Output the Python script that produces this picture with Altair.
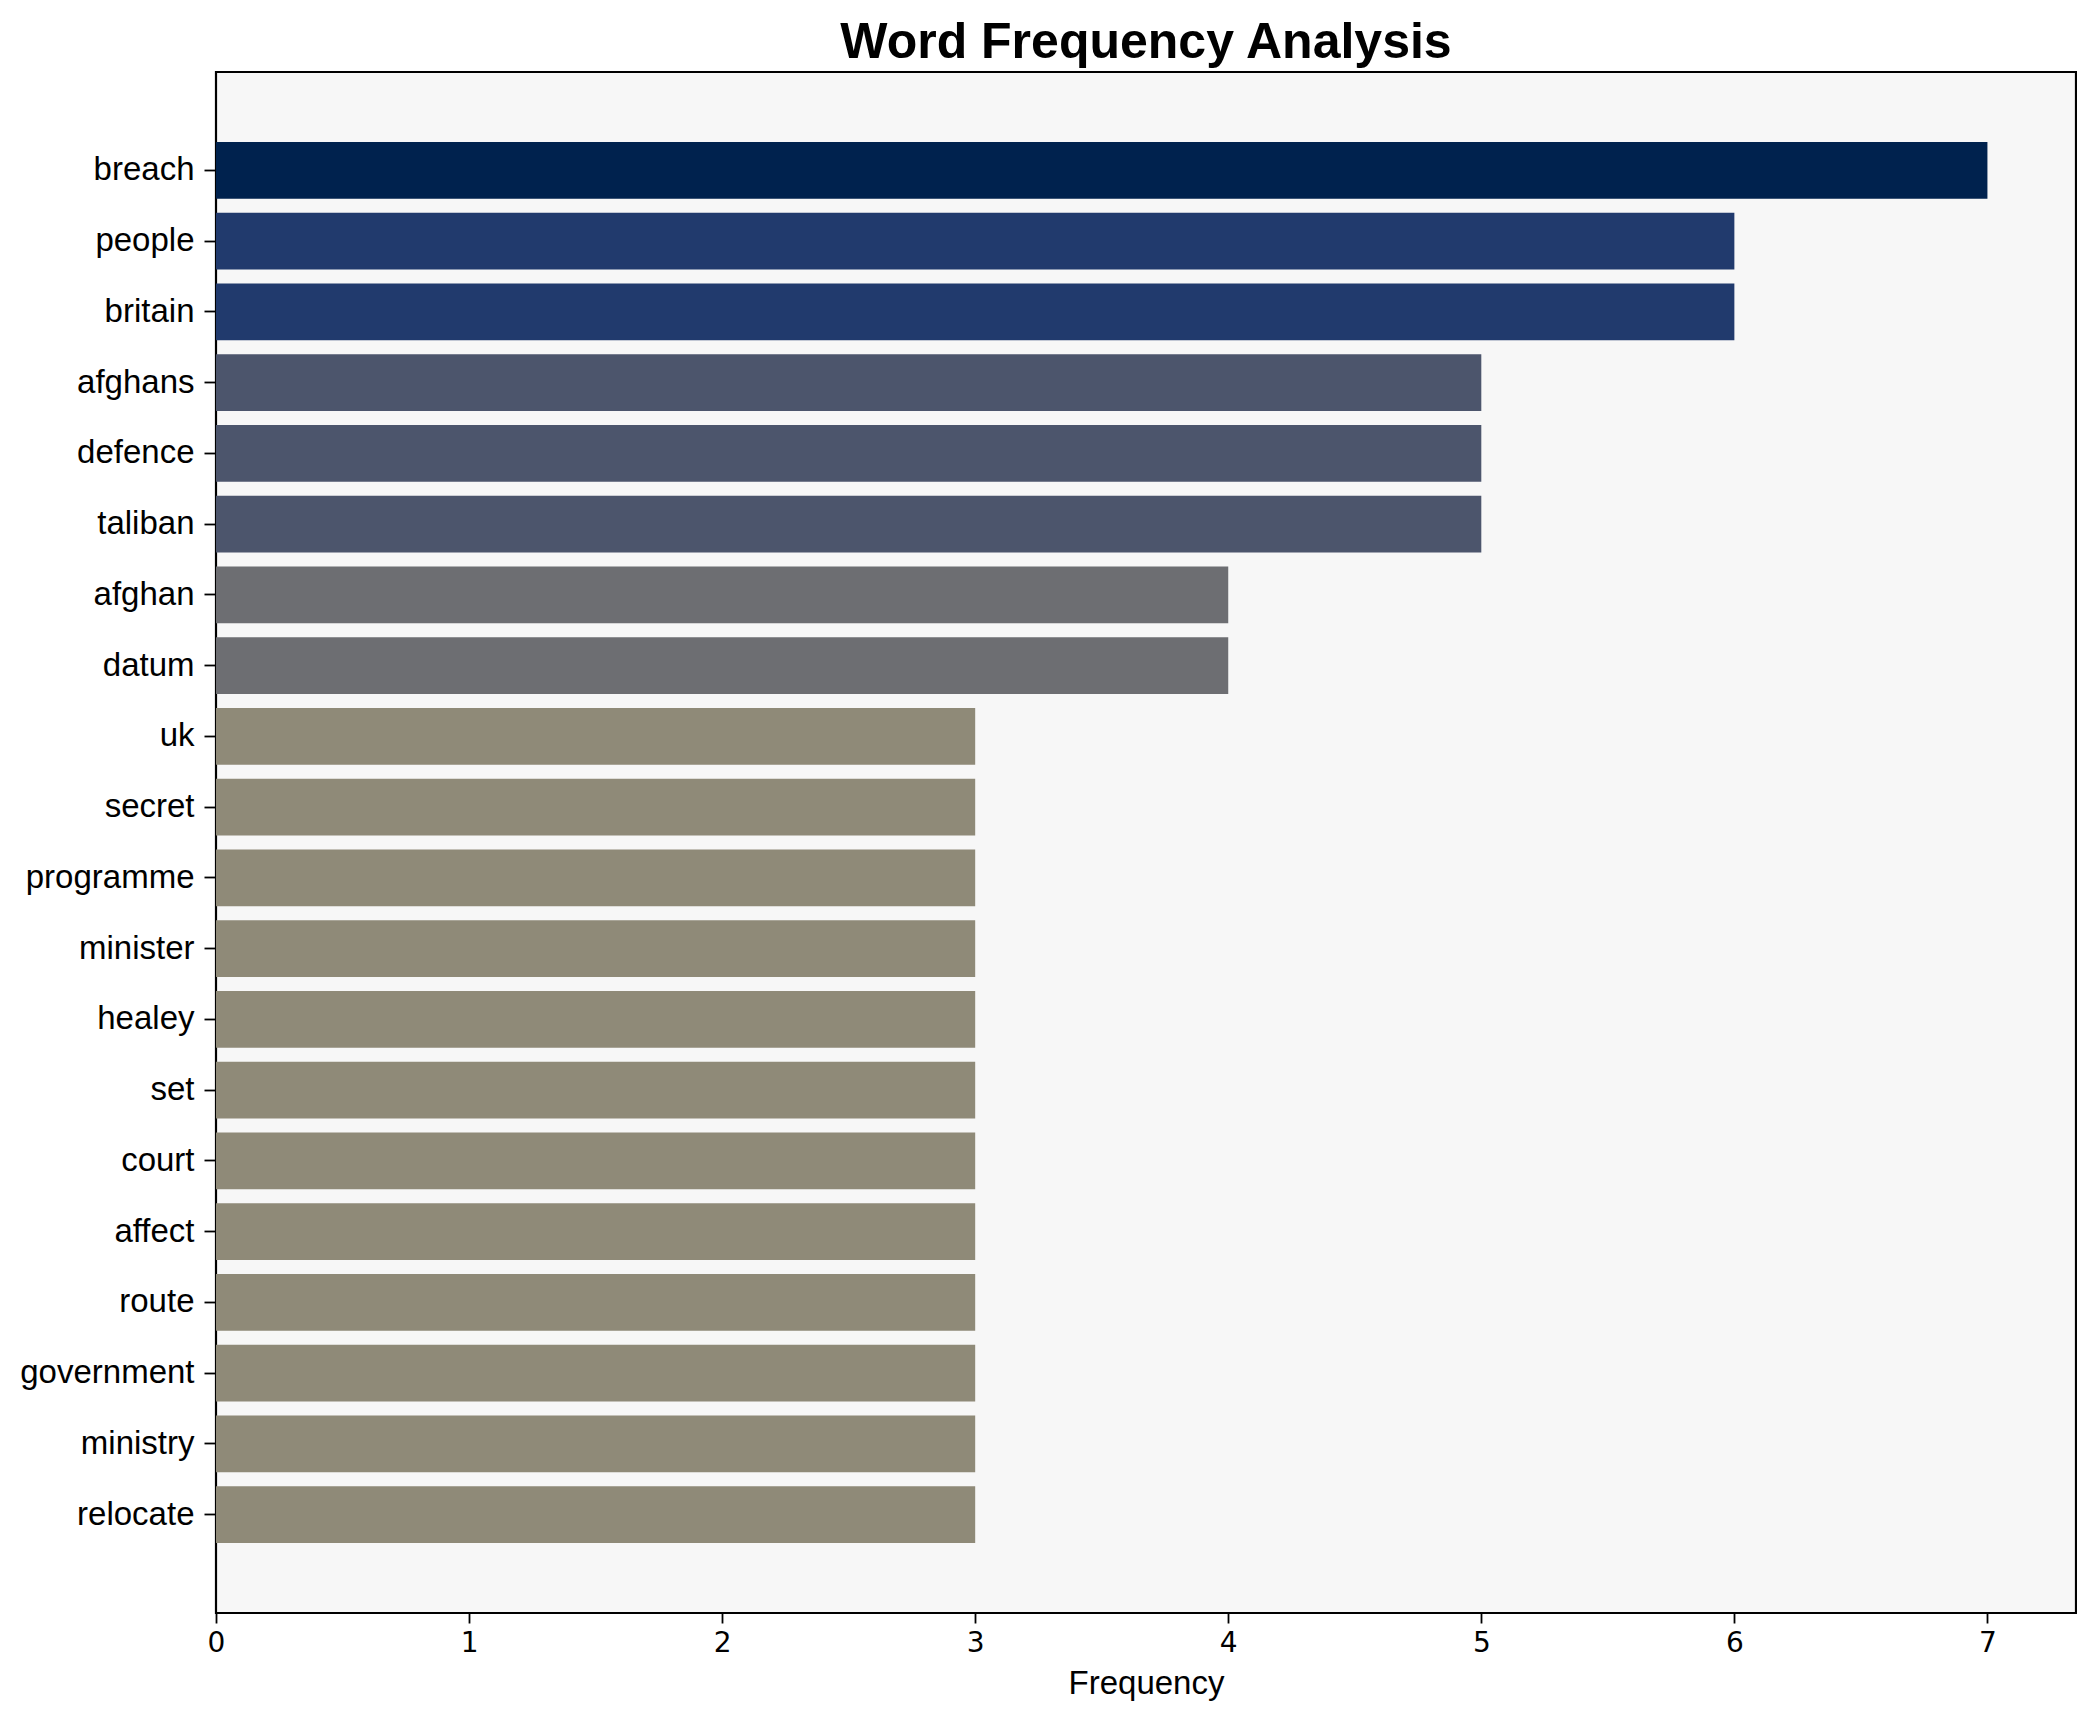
import altair as alt
import pandas as pd

words = ["breach", "people", "britain", "afghans", "defence", "taliban", "afghan", "datum",
         "uk", "secret", "programme", "minister", "healey", "set", "court", "affect",
         "route", "government", "ministry", "relocate"]
freqs = [7, 6, 6, 5, 5, 5, 4, 4, 3, 3, 3, 3, 3, 3, 3, 3, 3, 3, 3, 3]
color_domain = [3, 4, 5, 6, 7]
color_range = ["#8f8a78", "#6d6e72", "#4c556c", "#213a6d", "#00224e"]
x_ticks = [0, 1, 2, 3, 4, 5, 6, 7]

df = pd.DataFrame({"word": words, "freq": freqs})

FONT = "Liberation Sans"

chart = alt.Chart(df).mark_bar().encode(
    y=alt.Y("word:N", sort=words,
            scale=alt.Scale(paddingInner=0.2, paddingOuter=0.99),
            axis=alt.Axis(title=None, labelFont=FONT, labelFontSize=33, labelColor="black",
                          tickSize=12, tickWidth=1.8, tickColor="black", domain=False,
                          labelPadding=10, grid=False)),
    x=alt.X("freq:Q", scale=alt.Scale(domain=[0, 7.35], nice=False, zero=True),
            axis=alt.Axis(title="Frequency", values=x_ticks, format="d",
                          labelFont="DejaVu Sans", labelFontSize=28, labelColor="black",
                          labelFlush=False,
                          titleFont=FONT, titleFontSize=33, titleFontWeight="normal",
                          titleColor="black", titlePadding=10,
                          tickSize=10, tickWidth=1.8, tickColor="black", domain=False,
                          labelPadding=6, grid=False)),
    color=alt.Color("freq:O", scale=alt.Scale(domain=color_domain, range=color_range), legend=None),
).properties(
    width=1860,
    height=1541,
    title=alt.TitleParams("Word Frequency Analysis", font=FONT, fontSize=50, fontWeight="bold",
                          color="black", anchor="middle", offset=4),
    autosize=alt.AutoSizeParams(type="none"),
    padding={"left": 208, "top": 64, "right": 1, "bottom": 100},
).configure(
    background="white"
).configure_view(
    fill="#f7f7f7", stroke="black", strokeWidth=2.2
)

chart.save("out.html", embed_options={"renderer": "svg", "actions": False})
